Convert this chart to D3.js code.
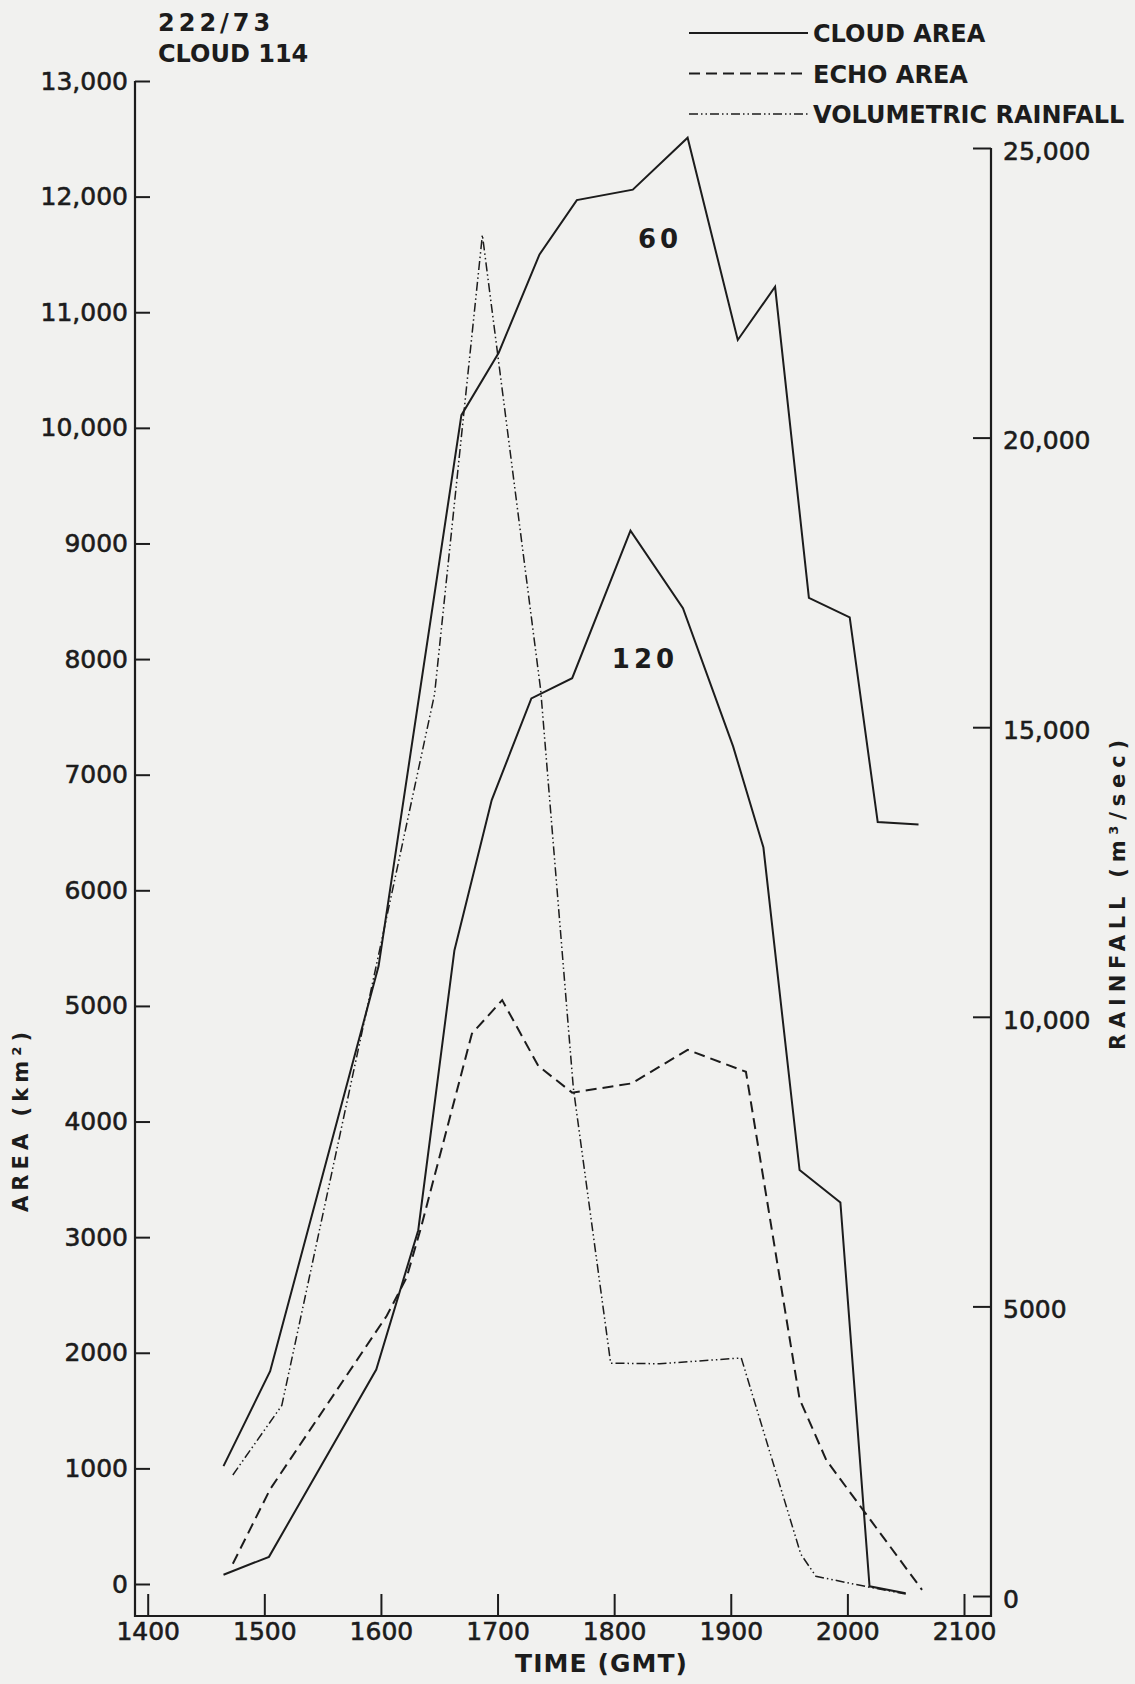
<!DOCTYPE html>
<html>
<title>Cloud 114</title>
<meta charset="UTF-8">
<script type="text/javascript" src="https://d3js.org/d3.v7.min.js"></script>
<style type="text/css">
	body {
		margin:0;
		background:#f1f1ef;
	}
	text {
		fill:#1c1c1c;
	}
	.tick line {
		stroke:#1c1c1c;
		stroke-width:2;
	}
	.tick text {
		stroke:#1c1c1c;
		stroke-width:0.6;
	}
</style>
<body>
	<svg id="viz"></svg>
</body>
<script type="text/javascript">

	// time of observation (GMT, read on the drawn axis) and value
	var cloud60 = [
		{t:1465, v:1020}, {t:1505, v:1840}, {t:1598, v:5345}, {t:1669, v:10110},
		{t:1701, v:10650}, {t:1736, v:11500}, {t:1768, v:11970}, {t:1816, v:12060},
		{t:1863, v:12510}, {t:1906, v:10760}, {t:1938, v:11220}, {t:1967, v:8530},
		{t:2002, v:8360}, {t:2026, v:6590}, {t:2061, v:6570}
	];
	var cloud120 = [
		{t:1465, v:80}, {t:1504, v:235}, {t:1596, v:1855}, {t:1632, v:3060},
		{t:1663, v:5480}, {t:1695, v:6780}, {t:1729, v:7660}, {t:1764, v:7835},
		{t:1814, v:9110}, {t:1859, v:8440}, {t:1902, v:7245}, {t:1928, v:6370},
		{t:1959, v:3580}, {t:1994, v:3300}, {t:2019, v:-20}, {t:2050, v:-80}
	];
	var echoArea = [
		{t:1473, v:175}, {t:1505, v:820}, {t:1605, v:2320}, {t:1622, v:2650},
		{t:1634, v:3070}, {t:1678, v:4760}, {t:1704, v:5050}, {t:1735, v:4480},
		{t:1764, v:4250}, {t:1815, v:4330}, {t:1863, v:4620}, {t:1913, v:4430},
		{t:1959, v:1600}, {t:1982, v:1070}, {t:2064, v:-50}
	];
	var rainfall = [
		{t:1473, v:2090}, {t:1515, v:3290}, {t:1646, v:15570}, {t:1687, v:23500},
		{t:1737, v:15640}, {t:1765, v:8770}, {t:1797, v:4020}, {t:1839, v:4010},
		{t:1909, v:4110}, {t:1960, v:725}, {t:1973, v:340}, {t:2018, v:155},
		{t:2050, v:35}
	];

	var timeTicks = [1400, 1500, 1600, 1700, 1800, 1900, 2000, 2100];
	var areaTicks = [0, 1000, 2000, 3000, 4000, 5000, 6000, 7000, 8000, 9000, 10000, 11000, 12000, 13000];
	var rainTicks = [0, 5000, 10000, 15000, 20000, 25000];

	var ink = "#1c1c1c";
	var W = 1135, H = 1684;
	var leftX = 135, rightX = 991, baseY = 1616;

	var svg = d3.select("#viz")
		.attr("width", W)
		.attr("height", H);

	var x = d3.scaleLinear().domain([1400, 2100]).range([147.7, 964]);
	var yL = d3.scaleLinear().domain([0, 13000]).range([1584, 81]);
	var yR = d3.scaleLinear().domain([0, 25000]).range([1596, 148]);

	// 10,000 and up get a comma, below that none
	function fmt(d){
		return d >= 10000 ? d3.format(",")(d) : d3.format("d")(d);
	}

	// axes
	var gL = svg.append("g")
		.attr("transform", "translate(" + leftX + ",0)")
		.call(d3.axisLeft(yL).tickValues(areaTicks).tickSize(-15).tickPadding(7).tickFormat(fmt));
	var gR = svg.append("g")
		.attr("transform", "translate(" + rightX + ",0)")
		.call(d3.axisRight(yR).tickValues(rainTicks).tickSize(-18).tickPadding(12).tickFormat(fmt));
	var gB = svg.append("g")
		.attr("transform", "translate(0," + baseY + ")")
		.call(d3.axisBottom(x).tickValues(timeTicks).tickSize(-22).tickPadding(6).tickFormat(d3.format("d")));

	[gL, gR, gB].forEach(function(g){
		g.select(".domain").remove();
		g.attr("font-family", "DejaVu Sans")
			.attr("font-size", 25);
		g.selectAll("text").attr("fill", ink);
	});
	gR.selectAll("text").attr("dy", "0.45em");

	svg.append("path")
		.attr("d", "M" + leftX + "," + yL(13000) + "V" + baseY + "H" + rightX + "V" + yR(25000))
		.attr("fill", "none")
		.attr("stroke", ink)
		.attr("stroke-width", 2.2);

	// series
	var lineL = d3.line().x(function(d){ return x(d.t); }).y(function(d){ return yL(d.v); });
	var lineR = d3.line().x(function(d){ return x(d.t); }).y(function(d){ return yR(d.v); });

	var series = [
		{data:cloud60, line:lineL, dash:null, w:2},
		{data:cloud120, line:lineL, dash:null, w:2},
		{data:echoArea, line:lineL, dash:"11,6", w:2},
		{data:rainfall, line:lineR, dash:"9,3,1.5,3,1.5,3", w:1.5}
	];

	svg.selectAll("path.series")
		.data(series)
		.enter().append("path")
		.attr("class", "series")
		.attr("d", function(d){ return d.line(d.data); })
		.attr("fill", "none")
		.attr("stroke", ink)
		.attr("stroke-width", function(d){ return d.w; })
		.attr("stroke-linejoin", "miter")
		.attr("stroke-dasharray", function(d){ return d.dash; });

	// contour labels
	svg.append("text").attr("x", 660).attr("y", 248)
		.attr("text-anchor", "middle").attr("font-family", "DejaVu Sans").attr("font-weight", "bold")
		.attr("font-size", 26).attr("letter-spacing", 4).text("60");
	svg.append("text").attr("x", 645).attr("y", 668)
		.attr("text-anchor", "middle").attr("font-family", "DejaVu Sans").attr("font-weight", "bold")
		.attr("font-size", 26).attr("letter-spacing", 4).text("120");

	// title
	svg.append("text").attr("x", 158).attr("y", 31)
		.attr("font-family", "DejaVu Sans").attr("font-weight", "bold").attr("font-size", 24)
		.attr("letter-spacing", 4).text("222/73");
	svg.append("text").attr("x", 158).attr("y", 62)
		.attr("font-family", "DejaVu Sans").attr("font-weight", "bold").attr("font-size", 24)
		.text("CLOUD 114");

	// legend
	var legend = [
		{name:"CLOUD AREA", dash:null, w:2},
		{name:"ECHO AREA", dash:"11,6", w:2},
		{name:"VOLUMETRIC RAINFALL", dash:"9,3,1.5,3,1.5,3", w:1.5}
	];
	var lg = svg.selectAll("g.legend")
		.data(legend)
		.enter().append("g")
		.attr("class", "legend")
		.attr("transform", function(d, i){ return "translate(0," + (33 + i * 40.5) + ")"; });
	lg.append("line")
		.attr("x1", 689).attr("x2", 808).attr("y1", 0).attr("y2", 0)
		.attr("stroke", ink)
		.attr("stroke-width", function(d){ return d.w; })
		.attr("stroke-dasharray", function(d){ return d.dash; });
	lg.append("text")
		.attr("x", 813).attr("y", 9)
		.attr("font-family", "DejaVu Sans").attr("font-weight", "bold").attr("font-size", 24)
		.text(function(d){ return d.name; });

	// axis titles
	svg.append("text")
		.attr("transform", "translate(28,1122) rotate(-90)")
		.attr("text-anchor", "middle")
		.attr("font-family", "DejaVu Sans").attr("font-weight", "bold").attr("font-size", 21)
		.attr("textLength", 180).attr("lengthAdjust", "spacing")
		.text("AREA  (km²)");
	svg.append("text")
		.attr("transform", "translate(1125,895) rotate(-90)")
		.attr("text-anchor", "middle")
		.attr("font-family", "DejaVu Sans").attr("font-weight", "bold").attr("font-size", 21)
		.attr("textLength", 310).attr("lengthAdjust", "spacing")
		.text("RAINFALL  (m³/sec)");
	svg.append("text")
		.attr("x", 601).attr("y", 1672)
		.attr("text-anchor", "middle")
		.attr("font-family", "DejaVu Sans").attr("font-weight", "bold").attr("font-size", 25)
		.attr("textLength", 172).attr("lengthAdjust", "spacing")
		.text("TIME (GMT)");

</script>
</html>
